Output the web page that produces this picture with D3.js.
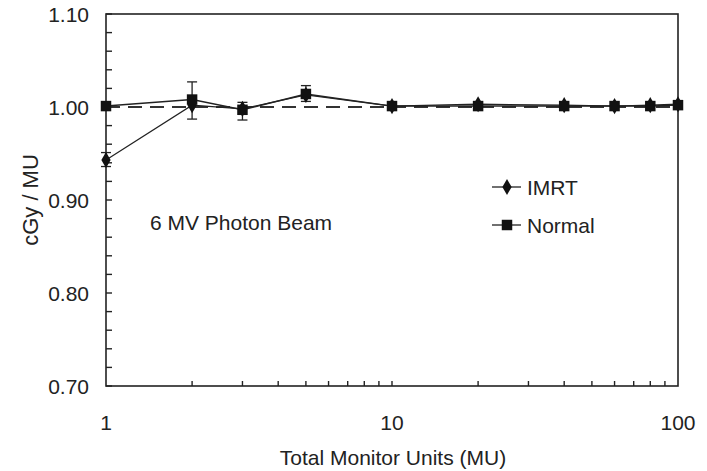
<!DOCTYPE html>
<html>
<head>
<meta charset="utf-8">
<script src="https://cdn.jsdelivr.net/npm/d3@7"></script>
<style>
  body { margin: 0; background: #fff; }
  svg text { font-family: "Liberation Sans", Arial, sans-serif; fill: #222; }
</style>
</head>
<body>
<div id="chart"></div>
<script>
// Data
const monitorUnits = [1, 2, 3, 5, 10, 20, 40, 60, 80, 100];
const imrt = [0.943, 1.002, 0.998, 1.013, 1.001, 1.003, 1.002, 1.001, 1.002, 1.003];
const normal = [1.001, 1.008, 0.997, 1.014, 1.001, 1.001, 1.001, 1.001, 1.001, 1.002];
// error bars [x, low, high]
const imrtErr = [[1, 0.936, 0.951]];
const normalErr = [[2, 0.987, 1.027], [3, 0.986, 1.005], [5, 1.006, 1.023]];
const yTicks = [0.70, 0.80, 0.90, 1.00, 1.10];
const xTickLabels = [1, 10, 100];
const reference = 1.00;

const width = 707, height = 471;
const margin = { top: 14, right: 29, bottom: 85, left: 106 };

const svg = d3.select('#chart').append('svg')
    .attr('width', width)
    .attr('height', height);

const x = d3.scaleLog().domain([1, 100]).range([margin.left, width - margin.right]);
const y = d3.scaleLinear().domain([0.70, 1.10]).range([height - margin.bottom, margin.top]);

const x0 = x.range()[0], x1 = x.range()[1];
const y0 = y.range()[0], y1 = y.range()[1];

// frame
svg.append('rect')
    .attr('x', x0).attr('y', y1)
    .attr('width', x1 - x0).attr('height', y0 - y1)
    .attr('fill', 'none')
    .attr('stroke', '#222')
    .attr('stroke-width', 1.6);

// y ticks (inside), minor every 0.02
const yMinor = d3.range(0, 21).map(i => 0.70 + i * 0.02);
svg.append('g').selectAll('line')
    .data(yMinor)
    .join('line')
    .attr('x1', x0).attr('x2', x0 + 6)
    .attr('y1', d => y(d)).attr('y2', d => y(d))
    .attr('stroke', '#222').attr('stroke-width', 1.4);

svg.append('g').selectAll('text')
    .data(yTicks)
    .join('text')
    .attr('x', x0 - 17)
    .attr('y', d => y(d) + 7.5)
    .attr('text-anchor', 'end')
    .style('font-size', '21px')
    .text(d3.format('.2f'));

// x ticks (inside), log minor ticks
const xMinor = x.ticks().filter(d => d > 1 && d < 100);
svg.append('g').selectAll('line')
    .data(xMinor)
    .join('line')
    .attr('x1', d => x(d)).attr('x2', d => x(d))
    .attr('y1', y0).attr('y2', y0 - 5)
    .attr('stroke', '#222').attr('stroke-width', 1.4);

svg.append('g').selectAll('text')
    .data(xTickLabels)
    .join('text')
    .attr('x', d => x(d))
    .attr('y', y0 + 44)
    .attr('text-anchor', 'middle')
    .style('font-size', '21px')
    .text(d => d);

// axis titles
svg.append('text')
    .attr('x', 393)
    .attr('y', 465)
    .attr('text-anchor', 'middle')
    .style('font-size', '21px')
    .text('Total Monitor Units (MU)');

svg.append('text')
    .attr('transform', `translate(38, ${(y0 + y1) / 2}) rotate(-90)`)
    .attr('text-anchor', 'middle')
    .style('font-size', '22px')
    .text('cGy / MU');

// dashed reference line
svg.append('line')
    .attr('x1', x0).attr('x2', x1)
    .attr('y1', y(reference)).attr('y2', y(reference))
    .attr('stroke', '#333')
    .attr('stroke-width', 1.8)
    .attr('stroke-dasharray', '14,8');

const line = d3.line().x(d => x(d[0])).y(d => y(d[1]));
const imrtPts = monitorUnits.map((m, i) => [m, imrt[i]]);
const normalPts = monitorUnits.map((m, i) => [m, normal[i]]);

function errorBars(data) {
    const g = svg.append('g').attr('stroke', '#222').attr('stroke-width', 1.3);
    data.forEach(([m, lo, hi]) => {
        g.append('line').attr('x1', x(m)).attr('x2', x(m)).attr('y1', y(lo)).attr('y2', y(hi));
        g.append('line').attr('x1', x(m) - 5).attr('x2', x(m) + 5).attr('y1', y(lo)).attr('y2', y(lo));
        g.append('line').attr('x1', x(m) - 5).attr('x2', x(m) + 5).attr('y1', y(hi)).attr('y2', y(hi));
    });
}
errorBars(imrtErr);
errorBars(normalErr);

svg.append('path').datum(imrtPts)
    .attr('d', line).attr('fill', 'none')
    .attr('stroke', '#222').attr('stroke-width', 1.2);
svg.append('path').datum(normalPts)
    .attr('d', line).attr('fill', 'none')
    .attr('stroke', '#222').attr('stroke-width', 1.4);

const diamond = d3.symbol().type(d3.symbolDiamond).size(75);
const square = d3.symbol().type(d3.symbolSquare).size(110);

svg.append('g').selectAll('path')
    .data(imrtPts)
    .join('path')
    .attr('transform', d => `translate(${x(d[0])},${y(d[1])})`)
    .attr('d', diamond)
    .attr('fill', '#111');
svg.append('g').selectAll('path')
    .data(normalPts)
    .join('path')
    .attr('transform', d => `translate(${x(d[0])},${y(d[1])})`)
    .attr('d', square)
    .attr('fill', '#111');

// annotation
svg.append('text')
    .attr('x', 150).attr('y', 230)
    .style('font-size', '21px')
    .text('6 MV Photon Beam');

// legend
const legend = [
    { name: 'IMRT', sym: diamond, y: 187 },
    { name: 'Normal', sym: square, y: 225 }
];
const lg = svg.append('g');
legend.forEach(l => {
    lg.append('line')
        .attr('x1', 492).attr('x2', 521)
        .attr('y1', l.y).attr('y2', l.y)
        .attr('stroke', '#222').attr('stroke-width', 1.3);
    lg.append('path')
        .attr('transform', `translate(507,${l.y})`)
        .attr('d', l.sym)
        .attr('fill', '#111');
    lg.append('text')
        .attr('x', 527).attr('y', l.y + 7.5)
        .style('font-size', '21px')
        .text(l.name);
});
</script>
</body>
</html>
